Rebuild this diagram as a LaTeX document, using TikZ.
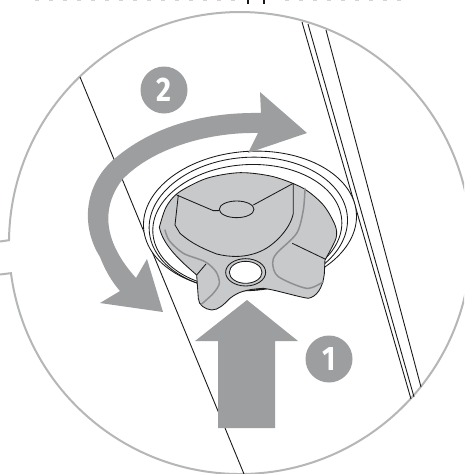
\documentclass[tikz,border=0pt]{standalone}
\usepackage{fontspec}
\setmainfont{Fira Sans}
\definecolor{arrowgrey}{HTML}{9D9E9F}
\definecolor{ringgrey}{HTML}{B5B6B7}
\definecolor{knobgrey}{HTML}{C8C9CB}
\definecolor{ridge}{HTML}{8E8F91}
\definecolor{ink}{HTML}{1A1A1A}
\tikzset{
  thin line/.style={draw=ink,line width=0.9pt},
  big arrow/.style={fill=arrowgrey,draw=none},
  badge/.style={circle,fill=arrowgrey,text=white,minimum size=47pt,inner sep=0pt,font=\bfseries\fontsize{34}{34}\selectfont},
  ridge line/.style={draw=ridge,line width=1.5pt,line cap=round},
  knob line/.style={draw=ink,line width=0.85pt,line join=round},
  ring line/.style={draw=ringgrey,line width=2pt},
}
\begin{document}
\begin{tikzpicture}[x=1pt,y=-1pt]
\useasboundingbox (0,0) rectangle (464,474);
\clip (0,0) rectangle (464,474);
\fill[white] (0,0) rectangle (464,474);
% cut-off line of text at the top edge
\draw[ink,line width=1.2pt] (248,0) -- (248,3.5) (264,0) -- (264,3.5);
\draw[ringgrey!60,line width=0.6pt,dash pattern=on 4pt off 10pt] (35,0.3) -- (240,0.3) (285,0.3) -- (405,0.3);
% magnifier outline with notch
\draw[ring line] (0,241.5) -- (9,240.2) arc[start angle=180.7,delta angle=351.8,radius=231] -- (0,274.5);
% panel lines
\draw[thin line] (80,77) -- (244,474);
\draw[thin line] (302,22) -- (411,399);
\draw[thin line] (308,24) -- (414,397);
\draw[thin line] (326,30) -- (421,387);
% seat rings
\begin{scope}[shift={(130,150)},x=0.3333pt,y=-0.3333pt]
\filldraw[fill=white,knob line] (360,212) ellipse [x radius=320,y radius=208,rotate=4];
\draw[knob line] (355,222) ellipse [x radius=298,y radius=200,rotate=4];
\draw[knob line] (352,230) ellipse [x radius=284,y radius=186,rotate=4];
\end{scope}
% curved arrow
\path[big arrow] (261,113) .. controls (200,112) and (150,128) .. (113,160)
  .. controls (85,185) and (80,225) .. (100,257)
  .. controls (105,270) and (112,282) .. (120,291)
  -- (100,303) -- (163,312) -- (147,259) -- (136,278)
  .. controls (118,258) and (92,220) .. (122,180)
  .. controls (150,150) and (205,132) .. (258,133)
  -- (248,153) -- (307,133) -- (260,92) -- cycle;
% straight arrow
\path[big arrow] (218,428) -- (218,341) -- (195,341) -- (247,300) -- (298,341) -- (275,341) -- (275,428) -- cycle;
% badges
\node[badge] (two) at (164,90) {\scalebox{0.85}[1]{2}};
\node[badge] (one) at (329,359) {\scalebox{0.85}[1]{1}};
% knob
\begin{scope}[shift={(130,150)},x=0.3333pt,y=-0.3333pt]
\filldraw[fill=knobgrey,knob line] plot[smooth,tension=0.5] coordinates {(88,232) (108,172) (145,128) (230,85) (330,68) (430,80) (520,115) (580,165) (615,225) (618,265) (585,330)}
  -- (583,372) .. controls (578,415) and (560,440) .. (535,445)
  .. controls (500,440) and (440,420) .. (400,415)
  .. controls (350,418) and (325,425) .. (300,445)
  .. controls (280,465) and (265,480) .. (245,480)
  .. controls (225,478) and (205,465) .. (205,445)
  -- (200,375)
  .. controls (160,340) and (100,290) .. (88,232) -- cycle;
\draw[ridge line] plot[smooth,tension=0.5] coordinates {(105,240) (118,272) (160,310) (225,335) (258,365) (268,400) (250,430) (215,462)};
\draw[ridge line] plot[smooth,tension=0.5] coordinates {(525,115) (520,180) (500,250) (440,310) (428,340) (445,380) (530,415) (580,395)};
\draw[knob line] (145,135) -- (135,225) -- (150,250) .. controls (190,285) and (230,300) .. (260,312) .. controls (300,322) and (350,325) .. (400,300) .. controls (430,285) and (480,240) .. (490,190) -- (490,100);
\draw[knob line] (140,135) -- (250,182) -- (268,182);
\draw[knob line] (370,165) -- (490,100);
\draw[knob line] (320,178) ellipse [x radius=52,y radius=25];
\draw[knob line] (487,280) -- (587,328);
\draw[knob line] (228,342) -- (200,375);
\filldraw[fill=knobgrey,knob line] (347,367) ellipse [x radius=60,y radius=41];
\filldraw[fill=white,knob line] (347,367) ellipse [x radius=49,y radius=33];
\end{scope}
\end{tikzpicture}
\end{document}
